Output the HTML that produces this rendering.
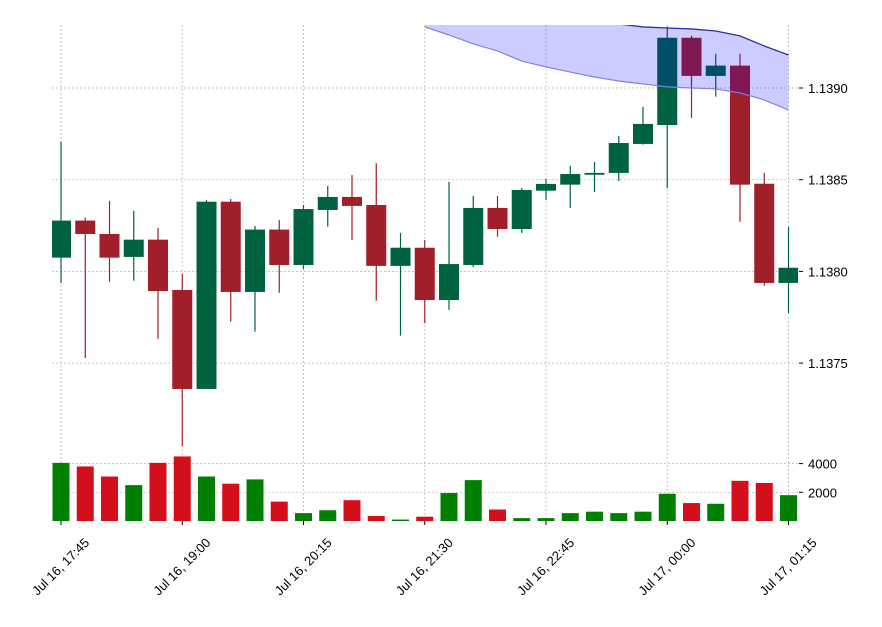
<!DOCTYPE html>
<html><head><meta charset="utf-8"><style>
body{margin:0;background:#fff;width:882px;height:627px;overflow:hidden}
svg{display:block;font-family:"Liberation Sans","DejaVu Sans",sans-serif}
</style></head><body>
<svg id="chart" width="882" height="627"></svg>
<script>
const opens=[1.138075,1.138277,1.138204,1.138079,1.138173,1.137899,1.137359,1.13838,1.137888,1.138228,1.138035,1.138335,1.138406,1.138362,1.13803,1.138129,1.137844,1.138035,1.138346,1.138231,1.13844,1.138473,1.138527,1.138537,1.138695,1.138798,1.139274,1.139066,1.139122,1.138478,1.137937];
const highs=[1.138707,1.138293,1.138384,1.13833,1.138237,1.137986,1.138389,1.138395,1.138248,1.13828,1.138362,1.138466,1.138526,1.13859,1.13821,1.138171,1.138489,1.138411,1.138411,1.138455,1.138504,1.138575,1.138597,1.138738,1.138897,1.139334,1.139285,1.139186,1.139186,1.138537,1.138242];
const lows=[1.137937,1.137528,1.137944,1.137949,1.137632,1.137048,1.137359,1.137726,1.137671,1.137884,1.138013,1.138244,1.138171,1.13784,1.13765,1.137717,1.13779,1.138024,1.138189,1.13821,1.138389,1.138346,1.138433,1.138493,1.138691,1.138455,1.138837,1.138953,1.13827,1.137922,1.137773];
const closes=[1.138277,1.138204,1.138075,1.138173,1.137893,1.137359,1.13838,1.137888,1.138228,1.138035,1.13834,1.138406,1.138357,1.13803,1.138129,1.137844,1.13804,1.138346,1.138231,1.138444,1.138477,1.138531,1.138537,1.1387,1.138804,1.139274,1.139066,1.139122,1.138473,1.137937,1.13802];
const volumes=[4050,3800,3100,2500,4050,4500,3100,2600,2900,1350,550,750,1450,350,100,300,1950,2850,800,200,200,550,650,550,650,1900,1250,1200,2800,2650,1800];
const bandStart=15;
const bandUpper=[1.139507,1.139491,1.139475,1.139458,1.139442,1.139415,1.139393,1.139371,1.139349,1.139333,1.139327,1.139322,1.139311,1.139284,1.139229,1.13918];
const bandLower=[1.139333,1.139289,1.13924,1.139202,1.139147,1.139115,1.139087,1.13906,1.139038,1.139022,1.139006,1.139,1.138995,1.138973,1.138935,1.13888];
const priceTicks=[1.1375,1.1380,1.1385,1.1390];
const volTicks=[2000,4000];
const xTickIdx=[0,5,10,15,20,25,30];
const xTickLabels=["Jul 16, 17:45","Jul 16, 19:00","Jul 16, 20:15","Jul 16, 21:30","Jul 16, 22:45","Jul 17, 00:00","Jul 17, 01:15"];

const NS="http://www.w3.org/2000/svg";
const svg=document.getElementById('chart');
const L=52,R=798,PT=25,PB=452,VB=521;
const xs=i=>61+i*24.25;
const yp=p=>88+(1.1390-p)/0.0005*91.7;
const yv=v=>VB-v/2000*28.7;
function mk(tag,attrs,parent){const e=document.createElementNS(NS,tag);for(const k in attrs)e.setAttribute(k,attrs[k]);(parent||svg).appendChild(e);return e;}
const defs=mk('defs',{});
const cp=mk('clipPath',{id:'pc'},defs);mk('rect',{x:L,y:PT,width:R-L,height:PB-PT},cp);

// grids
const grid=mk('g',{});


priceTicks.forEach(p=>{mk('line',{x1:L,x2:R,y1:yp(p),y2:yp(p),stroke:'#b0b0b0','stroke-width':0.7,'stroke-dasharray':'2,2'},grid);});
volTicks.forEach(v=>{mk('line',{x1:L,x2:R,y1:yv(v),y2:yv(v),stroke:'#b0b0b0','stroke-width':0.7,'stroke-dasharray':'2,2'},grid);});
xTickIdx.forEach(i=>{mk('line',{x1:xs(i),x2:xs(i),y1:PT,y2:VB,stroke:'#b0b0b0','stroke-width':0.7,'stroke-dasharray':'2,2'},grid);});

// candles
const cg=mk('g',{'clip-path':'url(#pc)'});


opens.forEach((o,i)=>{
  const c=closes[i],up=c>=o,col=up?'#006340':'#a01f28';
  const g=mk('g',{},cg);
  
  
  mk('line',{x1:xs(i),x2:xs(i),y1:yp(highs[i]),y2:yp(lows[i]),stroke:col,'stroke-width':1.2},g);
  const t=yp(Math.max(o,c)),b=yp(Math.min(o,c));
  mk('rect',{x:xs(i)-10,y:t,width:20,height:Math.max(1.5,b-t),fill:col},g);
});

// band (drawn over candles)
const bandG=mk('g',{'clip-path':'url(#pc)'});


let up=bandUpper.map((p,k)=>xs(bandStart+k)+','+yp(p));
let lo=bandLower.map((p,k)=>xs(bandStart+k)+','+yp(p)).reverse();
const poly=mk('polygon',{points:up.concat(lo).join(' '),fill:'rgba(0,0,255,0.2)'},bandG);


const ul=mk('polyline',{points:up.join(' '),fill:'none',stroke:'#3030a0','stroke-width':1.3},bandG);


const ll=mk('polyline',{points:bandLower.map((p,k)=>xs(bandStart+k)+','+yp(p)).join(' '),fill:'none',stroke:'#8080e8','stroke-width':1.2},bandG);



// volume
const vg=mk('g',{});


volumes.forEach((v,i)=>{
  const col=closes[i]>=opens[i]?'#008000':'#d40f1c';
  const r=mk('rect',{x:xs(i)-8.5,y:yv(v),width:17,height:VB-yv(v),fill:col},vg);
  
  
});

// right axis
const ax=mk('g',{'font-size':13,fill:'#000'});


priceTicks.forEach(p=>{mk('line',{x1:R+1,x2:R+5,y1:yp(p),y2:yp(p),stroke:'#000'},ax);const t=mk('text',{x:R+10,y:yp(p)+5},ax);t.textContent=p.toFixed(4);});
volTicks.forEach(v=>{mk('line',{x1:R+1,x2:R+5,y1:yv(v),y2:yv(v),stroke:'#000'},ax);const t=mk('text',{x:R+10,y:yv(v)+5},ax);t.textContent=v;});

// x axis
const xa=mk('g',{'font-size':13,fill:'#000'});


xTickIdx.forEach((i,k)=>{
  mk('line',{x1:xs(i),x2:xs(i),y1:VB,y2:VB+4,stroke:'#000'},xa);
  const x=xs(i),y=VB+46;
  const t=mk('text',{x:x,y:y+4,'text-anchor':'middle',transform:`rotate(-45 ${x} ${y})`},xa);
  
  
  t.textContent=xTickLabels[k];
});
</script>
</body></html>
